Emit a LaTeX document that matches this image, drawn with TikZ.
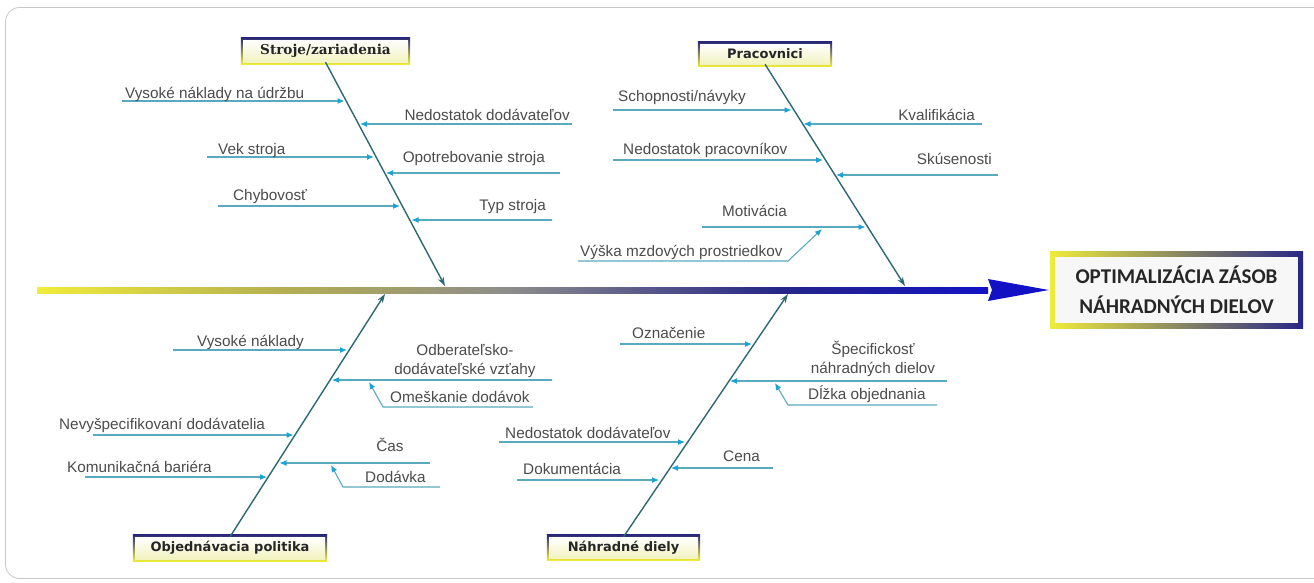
\documentclass[tikz,border=0pt]{standalone}
\usepackage{fontspec}
\setmainfont{Liberation Sans}
\newfontfamily\catsans{DejaVu Sans}
\newfontfamily\catserif{DejaVu Serif}
\newfontfamily\effectfont{Carlito}
\usetikzlibrary{arrows.meta,backgrounds}

\definecolor{framecol}{HTML}{C9C9C9}
\definecolor{bonecol}{HTML}{2E6873}
\definecolor{causecol}{HTML}{5AAABE}
\definecolor{tipcol}{HTML}{1EA2D6}
\definecolor{txtcol}{HTML}{4C4C4C}
\definecolor{spyel}{HTML}{F0EC3A}
\definecolor{spolive}{HTML}{B4AE52}
\definecolor{spgray}{HTML}{8C8C8C}
\definecolor{spnavy}{HTML}{262688}
\definecolor{spblue}{HTML}{1212C4}
\definecolor{catfill}{HTML}{F2F2C0}
\definecolor{catedge}{HTML}{2A2A78}

\pgfdeclarehorizontalshading{spineshade}{100bp}{color(0bp)=(spyel); color(25bp)=(spyel); color(38bp)=(spolive); color(50bp)=(spgray); color(64bp)=(spnavy); color(75bp)=(spblue); color(100bp)=(spblue)}

\tikzset{
  lbl/.style={font=\fontsize{15.3}{19}\selectfont, text=txtcol, inner sep=0pt},
  cause/.style={causecol, line width=1.1pt, -{Latex[length=7pt, width=6pt, color=tipcol]}},
  bone/.style={bonecol, line width=1.4pt, -{Stealth[length=9pt, width=6pt]}},
  catbox/.style={font=\catsans\bfseries\fontsize{13}{15}\selectfont, text=black!85, inner sep=0pt, top color=white, bottom color=catfill},
  catframe/.style={top color=catedge, bottom color=spyel},
}

\begin{document}
\begin{tikzpicture}[x=1pt, y=-1pt]
\useasboundingbox (0,0) rectangle (1314,582);
\begin{scope}[on background layer]
  \fill[white] (0,0) rectangle (1314,582);
\end{scope}
\draw[framecol, line width=0.8pt, rounded corners=14pt] (5.5,7.5) rectangle (1340,578.5);

%% Effect
\node[font=\effectfont\bfseries\fontsize{21}{30}\selectfont, align=center, text=black!85, fill=black!3, minimum width=243pt, minimum height=66pt, inner sep=0pt] (effect) at (1176.5,290) {OPTIMALIZÁCIA ZÁSOB\\NÁHRADNÝCH DIELOV};
\begin{scope}[on background layer]
  \shade[left color=spyel, middle color=spgray, right color=spnavy] ([xshift=-5pt, yshift=5pt]effect.north west) rectangle ([xshift=5pt, yshift=-5pt]effect.south east);
\end{scope}

%% Spine
\coordinate (tail) at (37,290);
\coordinate (neck) at (988,290);
\shade[shading=spineshade] ([yshift=3pt]tail) rectangle ([yshift=-3pt]neck);
\fill[spblue] ([yshift=11pt]neck) -- ([xshift=-6pt]effect.west) -- ([yshift=-11pt]neck) -- ([xshift=4pt]neck) -- cycle;

%% Categories
\node[catbox, font=\catserif\bfseries\fontsize{13.6}{15}\selectfont, minimum width=165pt, minimum height=22pt] (sz) at (325.5,51) {Stroje/zariadenia};
\node[catbox, minimum width=130pt, minimum height=20pt] (pr) at (765,54) {Pracovnici};
\node[catbox, minimum width=190pt, minimum height=22pt] (ob) at (230,548) {Objednávacia politika};
\node[catbox, minimum width=149pt, minimum height=21pt] (nd) at (623.5,547.5) {Náhradné diely};
\begin{scope}[on background layer]
  \shade[catframe] ([xshift=-2pt, yshift=2pt]sz.north west) rectangle ([xshift=2pt, yshift=-2pt]sz.south east);
  \shade[catframe] ([xshift=-2pt, yshift=2pt]pr.north west) rectangle ([xshift=2pt, yshift=-2pt]pr.south east);
  \shade[catframe] ([xshift=-2pt, yshift=2pt]ob.north west) rectangle ([xshift=2pt, yshift=-2pt]ob.south east);
  \shade[catframe] ([xshift=-2pt, yshift=2pt]nd.north west) rectangle ([xshift=2pt, yshift=-2pt]nd.south east);
\end{scope}

% Bones
\coordinate (szE) at (445,286);
\coordinate (prE) at (905,286);
\coordinate (obE) at (385,294);
\coordinate (ndE) at (788,294);
\draw[bone] (sz.south) -- (szE);
\draw[bone] (pr.south) -- (prE);
\draw[bone] (ob.north) -- (obE);
\draw[bone] (nd.north) -- (ndE);

%% Stroje/zariadenia
% Vysoke naklady na udrzbu
\coordinate (sz1a) at (122,101); \coordinate (sz1b) at (344.5,101);
\draw[cause] (sz1a) -- (sz1b);
\node[lbl, anchor=base west] (sz1) at (125,98) {Vysoké náklady na údržbu};
% Nedostatok dodavatelov
\coordinate (sz2a) at (572,124); \coordinate (sz2b) at (360,124);
\draw[cause] (sz2a) -- (sz2b);
\node[lbl, anchor=base east] (sz2) at (570,120) {Nedostatok dodávateľov};
% Vek stroja
\coordinate (sz3a) at (207,157); \coordinate (sz3b) at (374,157);
\draw[cause] (sz3a) -- (sz3b);
\node[lbl, anchor=base west] (sz3) at (218,154) {Vek stroja};
% Opotrebovanie stroja
\coordinate (sz4a) at (560,173); \coordinate (sz4b) at (386,173);
\draw[cause] (sz4a) -- (sz4b);
\node[lbl, anchor=base east] (sz4) at (545,162) {Opotrebovanie stroja};
% Chybovost
\coordinate (sz5a) at (218,206); \coordinate (sz5b) at (400,206);
\draw[cause] (sz5a) -- (sz5b);
\node[lbl, anchor=base west] (sz5) at (233,200) {Chybovosť};
% Typ stroja
\coordinate (sz6a) at (552,220); \coordinate (sz6b) at (411.5,220);
\draw[cause] (sz6a) -- (sz6b);
\node[lbl, anchor=base east] (sz6) at (546,210) {Typ stroja};

%% Pracovnici
% Schopnosti/navyky
\coordinate (pr1a) at (613,110); \coordinate (pr1b) at (791.5,110);
\draw[cause] (pr1a) -- (pr1b);
\node[lbl, anchor=base west] (pr1) at (618,101) {Schopnosti/návyky};
% Kvalifikacia
\coordinate (pr2a) at (982,124); \coordinate (pr2b) at (803.5,124);
\draw[cause] (pr2a) -- (pr2b);
\node[lbl, anchor=base east] (pr2) at (975,120) {Kvalifikácia};
% Nedostatok pracovnikov
\coordinate (pr3a) at (613,160); \coordinate (pr3b) at (823,160);
\draw[cause] (pr3a) -- (pr3b);
\node[lbl, anchor=base west] (pr3) at (623,154) {Nedostatok pracovníkov};
% Skusenosti
\coordinate (pr4a) at (998,175); \coordinate (pr4b) at (836,175);
\draw[cause] (pr4a) -- (pr4b);
\node[lbl, anchor=base east] (pr4) at (992,164) {Skúsenosti};
% Motivacia
\coordinate (pr5a) at (702,227); \coordinate (pr5b) at (865.5,227);
\draw[cause] (pr5a) -- (pr5b);
\node[lbl, anchor=base west] (pr5) at (722,216) {Motivácia};
% Vyska mzdovych prostriedkov
\coordinate (pr6a) at (578,261); \coordinate (pr6k) at (788,261); \coordinate (pr6b) at (822,229);
\draw[cause] (pr6a) -- (pr6k) -- (pr6b);
\node[lbl, anchor=base west] (pr6) at (580,256) {Výška mzdových prostriedkov};

%% Objednavacia politika
% Vysoke naklady
\coordinate (ob1a) at (173,350); \coordinate (ob1b) at (347,350);
\draw[cause] (ob1a) -- (ob1b);
\node[lbl, anchor=base west] (ob1) at (197,346) {Vysoké náklady};
% Odberatelsko-dodavatelske vztahy
\coordinate (ob2a) at (552,380); \coordinate (ob2b) at (332,380);
\draw[cause] (ob2a) -- (ob2b);
\node[lbl, align=center, anchor=south] (ob2) at (465,377.5) {Odberateľsko-\\dodávateľské vzťahy};
% Omeskanie dodavok
\coordinate (ob3a) at (533,407); \coordinate (ob3k) at (383,407); \coordinate (ob3b) at (369,382);
\draw[cause] (ob3a) -- (ob3k) -- (ob3b);
\node[lbl, anchor=base west] (ob3) at (390,402) {Omeškanie dodávok};
% Nevyspecifikovani dodavatelia
\coordinate (ob4a) at (93,435); \coordinate (ob4b) at (293.5,435);
\draw[cause] (ob4a) -- (ob4b);
\node[lbl, anchor=base west] (ob4) at (59,429) {Nevyšpecifikovaní dodávatelia};
% Cas
\coordinate (ob5a) at (430,463); \coordinate (ob5b) at (279.5,463);
\draw[cause] (ob5a) -- (ob5b);
\node[lbl, anchor=base] (ob5) at (390,451) {Čas};
% Dodavka
\coordinate (ob6a) at (440,487); \coordinate (ob6k) at (343,487); \coordinate (ob6b) at (331,465);
\draw[cause] (ob6a) -- (ob6k) -- (ob6b);
\node[lbl, anchor=base west] (ob6) at (365,482) {Dodávka};
% Komunikacna bariera
\coordinate (ob7a) at (85,477); \coordinate (ob7b) at (267,477);
\draw[cause] (ob7a) -- (ob7b);
\node[lbl, anchor=base west] (ob7) at (67,472) {Komunikačná bariéra};

%% Nahradne diely
% Oznacenie
\coordinate (nd1a) at (620,344); \coordinate (nd1b) at (752,344);
\draw[cause] (nd1a) -- (nd1b);
\node[lbl, anchor=base west] (nd1) at (632,338) {Označenie};
% Specifickost nahradnych dielov
\coordinate (nd2a) at (947,381); \coordinate (nd2b) at (730,381);
\draw[cause] (nd2a) -- (nd2b);
\node[lbl, align=center, anchor=south] (nd2) at (873,377) {Špecifickosť\\náhradných dielov};
% Dlzka objednania
\coordinate (nd3a) at (937,405); \coordinate (nd3k) at (788,405); \coordinate (nd3b) at (775,383);
\draw[cause] (nd3a) -- (nd3k) -- (nd3b);
\node[lbl, anchor=base west] (nd3) at (808,399) {Dĺžka objednania};
% Nedostatok dodavatelov
\coordinate (nd4a) at (499,442); \coordinate (nd4b) at (685,442);
\draw[cause] (nd4a) -- (nd4b);
\node[lbl, anchor=base west] (nd4) at (505,438) {Nedostatok dodávateľov};
% Cena
\coordinate (nd5a) at (773,468); \coordinate (nd5b) at (671,468);
\draw[cause] (nd5a) -- (nd5b);
\node[lbl, anchor=base west] (nd5) at (723,461) {Cena};
% Dokumentacia
\coordinate (nd6a) at (517,480); \coordinate (nd6b) at (659,480);
\draw[cause] (nd6a) -- (nd6b);
\node[lbl, anchor=base west] (nd6) at (523,474) {Dokumentácia};

\end{tikzpicture}
\end{document}
